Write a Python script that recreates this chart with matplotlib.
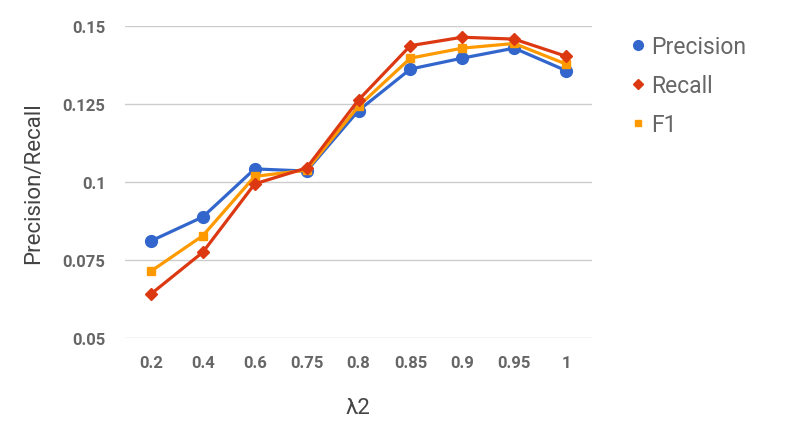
import matplotlib.pyplot as plt
from matplotlib.lines import Line2D

plt.rcParams['font.family'] = ['Roboto', 'DejaVu Sans']

# data
lambda2 = ['0.2', '0.4', '0.6', '0.75', '0.8', '0.85', '0.9', '0.95', '1']
precision = [0.0811, 0.0888, 0.1042, 0.1035, 0.1229, 0.1362, 0.1397, 0.1429, 0.1357]
recall = [0.0641, 0.0775, 0.0994, 0.1045, 0.1263, 0.1437, 0.1464, 0.1458, 0.1403]
f1 = [0.0714, 0.0828, 0.1018, 0.1038, 0.1243, 0.1397, 0.1429, 0.1444, 0.1378]
y_ticks = [0.05, 0.075, 0.1, 0.125, 0.15]
y_tick_labels = ['0.05', '0.075', '0.1', '0.125', '0.15']

blue, red, orange = '#3366cc', '#dc3912', '#ff9900'

fig = plt.figure(figsize=(8, 4.39), dpi=100)
ax = fig.add_axes([125 / 800, 1 - 339 / 439, 467 / 800, 312 / 439])

x = range(len(lambda2))
ax.plot(x, precision, color=blue, lw=2.3, marker='o', ms=8.5, zorder=3)
ax.plot(x, recall, color=red, lw=2.3, marker='D', ms=6, zorder=5)
ax.plot(x, f1, color=orange, lw=2.3, marker='s', ms=6, zorder=4)

ax.set_xlim(-0.5, len(lambda2) - 0.5)
ax.set_ylim(0.05, 0.15)
ax.set_xticks(list(x))
ax.set_xticklabels(lambda2)
ax.set_yticks(y_ticks)
ax.set_yticklabels(y_tick_labels)
ax.grid(axis='y', color='#cccccc', lw=1)
ax.set_axisbelow(True)
for s in ax.spines.values():
    s.set_visible(False)
ax.tick_params(length=0, labelsize=12, labelcolor='#666666', pad=12)
for lab in ax.get_xticklabels() + ax.get_yticklabels():
    lab.set_fontweight('bold')
ax.tick_params(axis='y', pad=14)

ax.set_xlabel('λ2', fontsize=16, color='#444444', labelpad=20)
ax.set_ylabel('Precision/Recall', fontsize=16, color='#444444', labelpad=13)

handles = [
    Line2D([], [], color=blue, marker='o', ls='none', ms=7),
    Line2D([], [], color=red, marker='D', ls='none', ms=5.5),
    Line2D([], [], color=orange, marker='s', ls='none', ms=5),
]
fig.legend(handles, ['Precision', 'Recall', 'F1'], loc='upper left',
           bbox_to_anchor=(608 / 800, 1 - 15 / 439), frameon=False,
           fontsize=16.5, labelcolor='#666666', handletextpad=0.2,
           handlelength=0.8, labelspacing=0.7)

fig.savefig('out.png', dpi=100)
